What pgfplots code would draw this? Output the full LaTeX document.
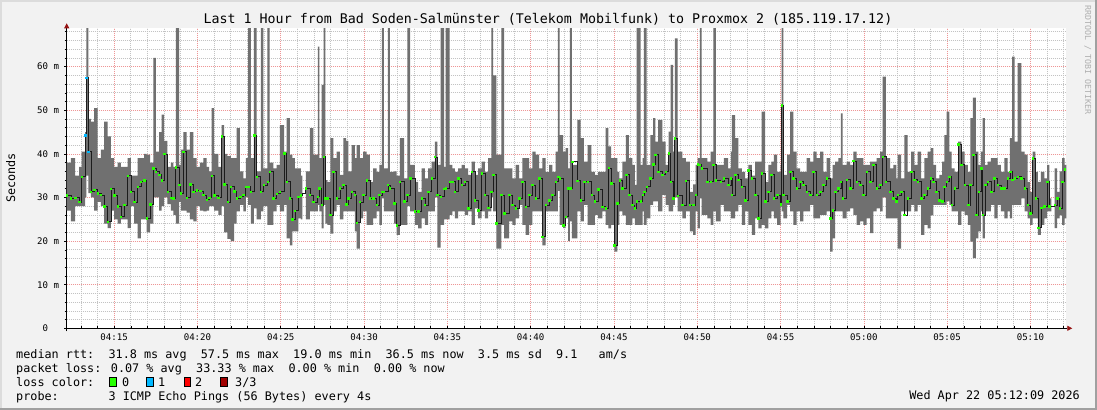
\documentclass[border=0pt]{standalone}
\usepackage{fontspec}
\setmainfont{DejaVu Sans Mono}
\usepackage{pgfplots}
\pgfplotsset{compat=1.18}
\usepackage{pgfplotstable}
\usetikzlibrary{arrows.meta}

\definecolor{bgcol}{RGB}{242,242,242}
\definecolor{borderdark}{RGB}{160,160,160}
\definecolor{borderlight}{RGB}{220,220,220}
\definecolor{smokegray}{RGB}{112,112,112}
\definecolor{medline}{RGB}{28,28,28}
\definecolor{loss0}{RGB}{38,255,0}
\definecolor{loss1}{RGB}{0,184,255}
\definecolor{loss2}{RGB}{255,0,0}
\definecolor{loss3}{RGB}{160,0,0}
\definecolor{mgrid}{RGB}{238,150,150}
\definecolor{mingrid}{RGB}{195,195,195}
\definecolor{arrowred}{RGB}{150,20,20}
\definecolor{wmark}{RGB}{175,175,175}

\newcommand\titlefont{\fontsize{13.3bp}{15bp}\selectfont}
\newcommand\legfont{\fontsize{11.8bp}{14bp}\selectfont}
\newcommand\tickfont{\fontsize{9.1bp}{11bp}\selectfont}
\newcommand\wmfont{\fontsize{8.3bp}{10bp}\selectfont}

% t = minutes after 04:00, lo/hi = smoke range, med = median rtt (ms), loss = pings lost
\pgfplotstableread{
t lo hi med loss
12.15 27 38 30.5 0
12.40 24.5 39 29.8 0
12.65 28 35 30 0
12.90 28 37 29 0
13.05 28 40.5 34.8 0
13.25 30 45 44.3 1
13.33 35 75 57.5 1
13.45 31 48 40.5 1
13.60 30 47.4 31.3 0
13.80 27 50.5 31.8 0
14.00 29 39 31 0
14.20 28 41 30.6 0
14.40 24 47.4 28 0
14.60 23 44 24.5 0
14.80 27 39 32 0
15.00 25 37 30.5 0
15.20 24 38 28 0
15.40 25 37 25.6 0
15.60 25 37 28.3 0
15.80 23 39 35 0
16.00 28 35 31.3 0
16.20 24 35 29 0
16.40 20.6 39 32.5 0
16.60 25 39 33.6 0
16.80 25 40 34 0
16.95 22 39.8 25.2 0
17.15 24 38 28.5 0
17.35 30 62 36.7 0
17.50 30 40.5 35.9 0
17.70 27 45 35.2 0
17.85 28 49 34 0
18.00 30 43 40 0
18.20 28.5 37 31.3 0
18.40 27 38 30 0
18.55 26 37 29.8 0
18.70 24 75 37 0
18.90 29 37.5 32.9 0
19.00 27 41 31 0
19.15 27 45 40.5 0
19.35 26.5 41 30 0
19.55 25 45 33 0
19.75 24.5 39 31.3 0
19.95 28 37 31.7 0
20.15 27 38 31.5 0
20.35 26.8 39 30.6 0
20.55 27 37 29.5 0
20.70 28 36 30 0
20.85 28 50.5 35 0
21.00 27 40 30.5 0
21.25 26 37 30 0
21.45 28 46.6 44 0
21.60 22 40 33 0
21.80 20.5 39.5 29 0
22.00 20 39 32.5 0
22.20 24 39 31.4 0
22.35 26.8 45.9 29.8 0
22.55 28.3 36 30.2 0
22.75 26.8 34.4 30.6 0
22.90 30 39 32.5 0
23.04 28.3 75 32.5 0
23.20 24 39 31.3 0
23.39 27.5 75 44.3 0
23.55 25 36 34.8 0
23.80 26.8 75 31.3 0
23.96 28 36.7 32.9 0
24.20 23.7 75 33.6 0
24.33 23.7 38 35.9 0
24.55 26.8 36.7 29.8 0
24.75 28.3 37.5 30.9 0
24.95 26.8 46.6 31.3 0
25.20 28.3 40.5 40.2 0
25.35 20.6 48.2 33.6 0
25.55 19 39.8 29.8 0
25.70 22.2 39 25 0
25.85 22.2 36.7 27 0
26.05 25.2 36.7 30.2 0
26.20 25 35 30.5 0
26.30 31 31 31 g
26.50 25 36 32.1 0
26.75 26.8 45.9 30.6 0
26.95 26.8 39.8 29 0
27.22 28.3 64.6 30.2 0
27.32 26.8 39 32.1 0
27.45 22.9 55.8 28.3 0
27.57 28.3 75 39.4 0
27.67 24 34 29.8 0
27.80 23.7 33.6 29.8 0
27.97 21.7 43.6 26 0
28.15 26.8 39 35.9 0
28.35 28.3 40.5 29.8 0
28.55 25 35.2 32.1 0
28.75 26.8 43.6 32.9 0
28.92 26.8 43 28.5 0
29.05 26.8 36 29.8 0
29.25 26.8 42 31.3 0
29.45 22.2 39 30.6 0
29.55 18.3 42 24.2 0
29.75 25.2 39 29 0
29.95 26.8 40.5 30.6 0
30.15 23.7 39.8 34 0
30.35 23.7 33.6 29.8 0
30.55 25.2 36.7 29.8 0
30.75 26.8 35.9 28.3 0
30.92 23.7 37.5 30.6 0
31.07 29.8 75 31.3 0
31.19 26.8 36.7 31.3 0
31.43 26.8 75 32.9 0
31.55 26.8 35.9 32.1 0
31.80 24 36 28.7 0
31.95 21.4 35 23.7 0
32.15 23.7 43.6 33.6 0
32.40 23.7 34.4 29.1 0
32.60 28 75 30.6 0
32.76 26.8 37.5 34.4 0
33.05 23.7 33.6 26.8 0
33.25 22.9 31.3 26.8 0
33.45 25.2 36.7 29.8 0
33.65 23.7 34.4 28.3 0
33.85 26.8 36.7 31.3 0
34.05 26.8 38.2 34.4 0
34.25 30 42.8 39.3 0
34.40 18.5 37.5 30.6 0
34.60 23.7 75 30.2 0
34.80 25 37 32 0
34.90 25 75 32.1 0
35.14 26 37.5 33.6 0
35.30 26.8 36.7 33.6 0
35.45 25.2 35.9 31.3 0
35.65 26.8 36.7 34.4 0
35.85 26.8 37.5 32.9 0
36.05 26 36.7 33.6 0
36.25 26.8 35.2 27.5 0
36.45 23.7 38.2 35.9 0
36.65 27.5 35.2 29.4 0
36.85 25.2 36.7 27.1 0
37.05 26.8 38.2 35.6 0
37.25 25.2 35.9 30.6 0
37.45 26.8 39 27.7 0
37.64 30 75 31.3 0
37.74 26.8 58 35.2 0
37.94 18.3 39.8 24.1 0
38.24 23.7 75 30.6 0
38.40 20.6 36.7 26.4 0
38.70 24.5 36.7 30.6 0
38.90 23.7 34.4 28.3 0
39.10 25.2 37.5 27.5 0
39.30 28.3 34.4 29.8 0
39.50 23.7 39 33.6 0
39.70 21.4 39 27.9 0
39.90 23.7 36.7 30.6 0
40.10 26.8 40.5 32.9 0
40.30 26.8 39.8 29.8 0
40.50 26.8 36.7 34.4 0
40.70 19 39 21 0
40.90 26.8 35.9 28.3 0
41.10 26.8 37.5 29.4 0
41.30 26.8 35.9 30.6 0
41.50 26.8 40.5 33.6 0
41.64 31.5 75 34.8 0
41.74 23.7 44.3 34.4 0
41.95 23 40.5 23.7 0
42.10 25.2 41.3 25.6 0
42.25 20 36.7 32.1 0
42.36 24.5 75 32.1 0
42.48 20.6 37.5 38.2 0
42.80 26.8 47.8 33.9 0
43.00 24.5 43.6 29.4 0
43.20 28.3 38.2 33.6 0
43.42 23.7 42 33.6 0
43.65 23.7 35.9 30.6 0
43.85 26 35.2 29.1 0
44.05 25.2 35.9 31.9 0
44.30 26.8 35.9 27.9 0
44.50 23.7 45.9 27.5 0
44.67 22.9 41.7 36.8 0
44.83 23.7 39 33.3 0
45.02 17.6 39 19 0
45.20 23.7 35.9 28.7 0
45.33 26.8 34.4 34 0
45.50 25.9 38.2 32.1 0
45.72 23.7 44.3 35.2 0
45.90 23.7 39 30.6 0
46.10 25.2 37.5 28.3 0
46.25 23.7 32.9 27.5 0
46.36 23.7 75 29.1 0
46.60 23.7 37.5 29.1 0
46.72 26.8 39 30.6 0
46.80 23.7 75 31.3 0
46.96 25.2 37.5 32.5 0
47.18 28.3 44.3 34.4 0
47.35 29.1 48.2 37.6 0
47.48 29.1 42.8 39.8 0
47.65 26.8 47.8 35.9 0
47.90 30.6 42.8 35.2 0
48.10 28.3 37.5 35.9 0
48.28 26.8 45.1 40.2 0
48.40 26.8 60.4 33.6 0
48.55 28.3 40.5 29.8 0
48.65 30 66.5 43.6 0
48.82 26.8 40.5 30.4 0
49.10 25.2 39 28.3 0
49.32 26.8 38.2 33.9 0
49.55 22.2 31.3 28.3 0
49.75 21.4 33 28.3 0
49.90 26.8 37.5 30.6 0
50.02 22.9 39 37.6 0
50.16 29.8 75 37.5 0
50.26 26 39 36.7 0
50.60 25.2 38.2 33.6 0
50.80 23.7 40.5 33.6 0
50.96 26.8 75 37.5 0
51.12 24.5 37.5 34 0
51.40 28.3 37.5 33.6 0
51.60 26.8 39 34.4 0
51.85 26.8 36.7 32.9 0
52.02 25.2 40.5 34.4 0
52.08 25.2 48.9 30.6 0
52.27 26.8 43.6 35.2 0
52.47 28.3 36.7 34.1 0
52.67 23.7 35.9 32.5 0
52.87 26.8 34.4 29.4 0
53.07 23.7 37.5 36.3 0
53.27 21.4 35 34.4 0
53.47 25.2 38.2 30.6 0
53.67 22.9 38.2 25.2 0
53.87 23.7 49.7 35.6 0
54.07 22.9 33.6 29.1 0
54.27 25.2 37.5 31.3 0
54.45 26.8 38.2 35.2 0
54.60 25.2 39.8 29.8 0
54.80 23.7 35.9 30.6 0
55.00 27.9 37.5 28.5 0
55.07 26.8 75 51.2 0
55.17 25.2 35.2 30.6 0
55.40 28.3 39.8 29.1 0
55.58 26.8 49.7 35.9 0
55.77 23.7 40.5 34.4 0
55.97 26.8 36.7 32.1 0
56.17 24.5 35.9 33.6 0
56.37 26.8 35.9 32.9 0
56.57 26.8 39 31.3 0
56.77 28.3 38.2 30.6 0
56.97 25.2 40.5 35.9 0
57.17 25.2 39 30.6 0
57.37 26 40.5 31.3 0
57.57 26 35.9 32.9 0
57.77 26.8 39 34.4 0
57.97 17.6 34.4 25.2 0
58.12 20.6 37.5 27.1 0
58.27 26.8 38.2 31.3 0
58.47 26.8 39 32.1 0
58.62 26.8 49.3 33.6 0
58.72 25.2 37.5 29.8 0
58.97 26.8 38.2 34.1 0
59.17 27.5 37.5 32.1 0
59.37 26 40.5 38.4 0
59.57 23.7 39 33.6 0
59.77 24.5 39 32.9 0
59.97 23.7 37.5 30.6 0
60.17 25.2 37.5 35.9 0
60.37 21.8 38.2 33.6 0
60.57 26.8 38.2 37.5 0
60.77 27.5 39 32.1 0
60.97 26.8 40.5 32.9 0
61.12 30 57.7 39.4 0
61.32 25.2 39 33.6 0
61.57 25.2 36.7 31.3 0
61.77 25.2 37.5 29.8 0
61.95 25.2 34.4 29.1 0
62.03 18.3 39.8 30.6 0
62.23 26.8 34.4 31.3 0
62.43 26.8 44.3 26 0
62.63 26.8 35.9 29.8 0
62.83 28.3 40.5 35.9 0
63.03 26.8 37.5 34.1 0
63.23 28.3 40.5 33.6 0
63.43 21.4 34.4 29.8 0
63.63 23.7 39 30.6 0
63.83 22.9 40.5 32.1 0
64.01 25.9 41.3 34.4 0
64.17 28.3 37.5 33.6 0
64.33 28.3 34.4 31.3 0
64.53 28.3 35.2 29.4 0
64.70 28.3 38.2 29.1 0
64.83 28.3 44.3 32.5 0
64.97 29.1 49.7 33.6 0
65.13 28.3 40.5 34.8 0
65.27 26.8 36.7 28.3 0
65.45 26.8 35.9 32.1 0
65.65 23.7 42.8 42.2 0
65.85 26.8 40.5 37.5 0
66.05 26 37.5 32.9 0
66.25 23.7 35.9 28.3 0
66.39 19.9 48.2 32.9 0
66.55 16.1 52.9 39.8 0
66.73 20.6 40.5 26 0
66.88 22.2 37.5 31.3 0
67.03 26.8 40.5 36.7 0
67.13 20.6 48.2 26 0
67.27 26.8 37.5 32.9 0
67.43 26.8 38.2 33.6 0
67.63 28.3 39 31.3 0
67.83 25.2 39 34.4 0
68.03 28.3 37.5 32.9 0
68.23 26.8 35.9 32.1 0
68.43 25.2 39 32.1 0
68.63 26.8 35.9 34.4 0
68.77 25.2 43.6 35.9 0
68.90 28.3 62.3 34.1 0
69.05 28.3 42.8 34.4 0
69.23 28.3 60.8 34.8 0
69.45 29.8 40.5 34.4 0
69.65 26.8 39.8 32.1 0
69.83 25.2 33.6 28.3 0
69.98 23.7 31.3 26.4 0
70.13 25.2 40.5 39 0
70.30 25.2 35.9 29.8 0
70.45 21.4 33.6 23.1 0
70.63 23.7 35.9 27.7 0
70.83 25.2 34.4 28 0
71.00 26.8 37.5 33.6 0
71.13 26.8 29.8 28 0
71.25 28 28 28 g
71.45 23 36.7 28.3 0
71.60 25.2 31.3 29.8 0
71.75 25.9 36 27.5 0
71.90 23.7 39 33.6 0
72.05 25.2 37.5 36.5 0
72.15 25.2 37.5 36.5 g
}\smoketable

\begin{document}
\begin{tikzpicture}
\path[use as bounding box] (0bp,0bp) rectangle (1097bp,410bp);
\fill[bgcol] (0bp,0bp) rectangle (1097bp,410bp);
\draw[borderlight, line width=2bp] (1bp,0bp) -- (1bp,409bp) -- (1097bp,409bp);
\draw[borderdark, line width=2bp] (0bp,1bp) -- (1096bp,1bp) -- (1096bp,410bp);

\begin{axis}[
    at={(66.7bp,81.7bp)}, anchor=south west,
    scale only axis, width=999.6bp, height=300bp,
    xmin=12.15, xmax=72.15, ymin=0, ymax=68.8,
    axis background/.style={fill=white},
    axis x line=bottom, axis y line=left,
    axis line style={black, line width=0.8bp},
    every outer x axis line/.append style={-{Triangle[length=5bp,width=5bp,color=arrowred]}, shorten >=-6bp},
    every outer y axis line/.append style={-{Triangle[length=5bp,width=5bp,color=arrowred]}, shorten >=-5bp, shorten <=-3bp},
    xtick={15,20,...,70},
    xticklabels={04:15,04:20,04:25,04:30,04:35,04:40,04:45,04:50,04:55,05:00,05:05,05:10},
    minor xtick={13,14,16,17,18,19,21,22,23,24,26,27,28,29,31,32,33,34,36,37,38,39,41,42,43,44,46,47,48,49,51,52,53,54,56,57,58,59,61,62,63,64,66,67,68,69,71,72},
    ytick={0,10,...,60},
    yticklabels={{0\phantom{0m}},10 m,20 m,30 m,40 m,50 m,60 m},
    minor ytick={2,4,6,8,12,14,16,18,22,24,26,28,32,34,36,38,42,44,46,48,52,54,56,58,62,64,66,68},
    grid=both,
    major grid style={mgrid, dash pattern=on 1bp off 1bp, line width=0.7bp},
    minor grid style={mingrid, dash pattern=on 1bp off 1bp, line width=0.7bp},
    xtick align=inside, ytick align=outside,
    major tick length=2.5bp, minor tick length=2bp,
    tick style={black, line width=0.6bp},
    xticklabel style={font=\tickfont, inner sep=0pt, anchor=base, yshift=-12.3bp},
    yticklabel style={font=\tickfont, inner sep=0pt, anchor=east, xshift=-4.9bp},
]
\addplot[draw=none, const plot, stack plots=y, forget plot] table[x=t, y=lo] {\smoketable};
\addplot[fill=smokegray, draw=none, const plot, stack plots=y] table[x=t, y expr=\thisrow{hi}-\thisrow{lo}] {\smoketable} \closedcycle;
\addplot[const plot, medline, line width=0.65bp, mark=none] table[x=t, y=med] {\smoketable};
\addplot[scatter, only marks, mark size=0.75bp, scatter src=explicit symbolic,
    scatter/classes={
        0={mark=square*, loss0},
        1={mark=square*, loss1},
        g={mark=square*, draw opacity=0, fill opacity=0}}]
    table[x=t, y=med, meta=loss] {\smoketable};
\end{axis}

\node[anchor=base, font=\titlefont, inner sep=0pt] at (548bp,386bp)
    {Last 1 Hour from Bad Soden-Salmünster (Telekom Mobilfunk) to Proxmox 2 (185.119.17.12)};
\node[rotate=90, font=\legfont, inner sep=0pt] at (10.7bp,232bp) {Seconds};
\node[rotate=-90, font=\wmfont, text=wmark, inner sep=0pt] at (1087.7bp,350bp) {RRDTOOL / TOBI OETIKER};

\node[anchor=base west, font=\legfont, inner sep=0pt] at (16bp,51.7bp)
    {median rtt:~~31.8 ms avg~~57.5 ms max~~19.0 ms min~~36.5 ms now~~3.5 ms sd~~9.1~~~am/s};
\node[anchor=base west, font=\legfont, inner sep=0pt] at (16bp,37.3bp)
    {packet loss: 0.07 \% avg~~33.33 \% max~~0.00 \% min~~0.00 \% now};
\node[anchor=base west, font=\legfont, inner sep=0pt] at (16bp,23.7bp) {loss color:};
\filldraw[fill=loss0, draw=black, line width=0.6bp] (109.5bp,24bp) rectangle (116bp,33bp);
\node[anchor=base west, font=\legfont, inner sep=0pt] at (122bp,23.7bp) {0};
\filldraw[fill=loss1, draw=black, line width=0.6bp] (146.5bp,24bp) rectangle (153bp,33bp);
\node[anchor=base west, font=\legfont, inner sep=0pt] at (158bp,23.7bp) {1};
\filldraw[fill=loss2, draw=black, line width=0.6bp] (184bp,24bp) rectangle (190.5bp,33bp);
\node[anchor=base west, font=\legfont, inner sep=0pt] at (195bp,23.7bp) {2};
\filldraw[fill=loss3, draw=black, line width=0.6bp] (220.5bp,24bp) rectangle (227bp,33bp);
\node[anchor=base west, font=\legfont, inner sep=0pt] at (235bp,23.7bp) {3/3};
\node[anchor=base west, font=\legfont, inner sep=0pt] at (16bp,9.7bp)
    {probe:~~~~~~~3 ICMP Echo Pings (56 Bytes) every 4s};
\node[anchor=base east, font=\legfont, inner sep=0pt] at (1080bp,11bp)
    {Wed Apr 22 05:12:09 2026};
\end{tikzpicture}
\end{document}
